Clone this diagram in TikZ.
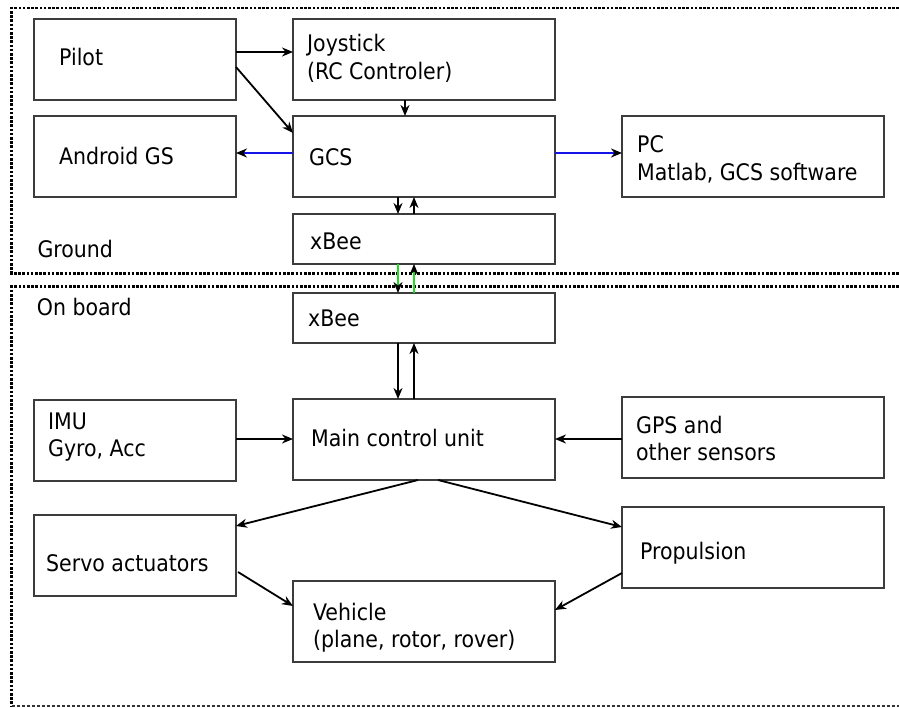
\documentclass[tikz,border=0pt]{standalone}
\usepackage{fontspec}
\setmainfont{DejaVu Sans Condensed}
\usetikzlibrary{arrows.meta,calc}
\definecolor{boxline}{RGB}{60,60,60}
\definecolor{linkblue}{RGB}{20,20,230}
\definecolor{radiogreen}{RGB}{30,220,30}
\begin{document}
\begin{tikzpicture}[x=1pt,y=-1pt,
  block/.style={draw=boxline,line width=1.4pt,rectangle,inner sep=0pt,outer sep=0pt,minimum height=81pt},
  wide/.style={block,minimum width=262pt},
  narrow/.style={block,minimum width=202pt},
  radio/.style={block,minimum width=262pt,minimum height=50pt},
  lbl/.style={anchor=base west,inner sep=0pt,font=\fontsize{22.8}{26}\selectfont},
  arr/.style={line width=1.8pt,-{Stealth[length=11pt,width=9pt,inset=3.5pt,color=black]}},
  zone/.style={line width=2.6pt,dash pattern=on 2.6pt off 1.6pt},
  zonefine/.style={line width=1.2pt,dash pattern=on 3pt off 2pt,black!80}
]
\useasboundingbox (0,0) rectangle (899,708);

% ground and on-board areas
\draw[zone] (899,8) -- (11.7,8) -- (11.7,273.3) -- (899,273.3);
\draw[zone] (899,286.7) -- (11.7,286.7) -- (11.7,706);
\draw[zonefine] (11.7,706) -- (899,706);

% blocks
\node[narrow] (pilot)   at (135,59.5)  {};
\node[wide]   (joy)     at (424,59.5)  {};
\node[narrow] (android) at (135,156.5) {};
\node[wide]   (gcs)     at (424,156.5) {};
\node[wide]   (pc)      at (753,156.5) {};
\node[radio]  (xbeeg)   at (424,239)   {};
\node[radio]  (xbeea)   at (424,318)   {};
\node[narrow] (imu)     at (135,440.5) {};
\node[wide]   (mcu)     at (424,439.5) {};
\node[wide]   (gps)     at (753,437.5) {};
\node[narrow] (servo)   at (135,555.5) {};
\node[wide]   (prop)    at (753,547.5) {};
\node[wide]   (veh)     at (424,621.5) {};

% texts
\node[lbl] (tpilot) at (59,66)     {Pilot};
\node[lbl] (tjoy1)  at (307,51.7)  {Joystick};
\node[lbl] (tjoy2)  at (307,79.3)  {(RC Controler)};
\node[lbl] (tand)   at (59,165)    {Android GS};
\node[lbl] (tgcs)   at (309,165.7) {GCS};
\node[lbl] (tpc1)   at (637,152.7) {PC};
\node[lbl] (tpc2)   at (637,180.2) {Matlab, GCS software};
\node[lbl] (txbg)   at (310,250)   {xBee};
\node[lbl] (tgnd)   at (37.3,257.7) {Ground};
\node[lbl] (tonb)   at (36.7,315.7) {On board};
\node[lbl] (txba)   at (308,326.7) {xBee};
\node[lbl] (timu1)  at (48,429)    {IMU};
\node[lbl] (timu2)  at (48,456.7)  {Gyro, Acc};
\node[lbl] (tmcu)   at (311,446.7) {Main control unit};
\node[lbl] (tgps1)  at (636,433)   {GPS and};
\node[lbl] (tgps2)  at (636,460.7) {other sensors};
\node[lbl] (tservo) at (46,571)    {Servo actuators};
\node[lbl] (tprop)  at (640,559)   {Propulsion};
\node[lbl] (tveh1)  at (313,620)   {Vehicle};
\node[lbl] (tveh2)  at (313,647)   {(plane, rotor, rover)};

% ground links
\draw[arr] ($(pilot.east)+(0,-7.5)$) -- ($(joy.west)+(0,-7.5)$);
\draw[arr] ($(pilot.east)+(0,7.5)$) -- ($(gcs.west)+(0,-23.5)$);
\draw[arr] ($(joy.south)+(-19,0)$) -- ($(gcs.north)+(-19,0)$);
\draw[arr,linkblue] ($(gcs.west)+(0,-3.5)$) -- ($(android.east)+(0,-3.5)$);
\draw[arr,linkblue] ($(gcs.east)+(0,-3.5)$) -- ($(pc.west)+(0,-3.5)$);
\draw[arr] ($(gcs.south)+(-26,0)$) -- ($(xbeeg.north)+(-26,0)$);
\draw[arr] ($(xbeeg.north)+(-10,0)$) -- ($(gcs.south)+(-10,0)$);

% radio link
\draw[arr,radiogreen] ($(xbeeg.south)+(-26,0)$) -- ($(xbeea.north)+(-26,0)$);
\draw[arr,radiogreen] ($(xbeea.north)+(-10,0)$) -- ($(xbeeg.south)+(-10,0)$);

% on-board links
\draw[arr] ($(xbeea.south)+(-26,0)$) -- ($(mcu.north)+(-26,0)$);
\draw[arr] ($(mcu.north)+(-10,0)$) -- ($(xbeea.south)+(-10,0)$);
\draw[arr] ($(imu.east)+(0,-1.5)$) -- ($(mcu.west)+(0,-0.5)$);
\draw[arr] ($(gps.west)+(0,1.5)$) -- ($(mcu.east)+(0,-0.5)$);
\draw[arr] ($(mcu.south)+(-6,0)$) -- ($(servo.east)+(0,-29.5)$);
\draw[arr] ($(mcu.south)+(14,0)$) -- ($(prop.west)+(0,-20.5)$);
\draw[arr] ($(servo.east)+(2,16.5)$) -- ($(veh.west)+(0,-15.5)$);
\draw[arr] ($(prop.west)+(0,25.5)$) -- ($(veh.east)+(0,-11.5)$);
\end{tikzpicture}
\end{document}
